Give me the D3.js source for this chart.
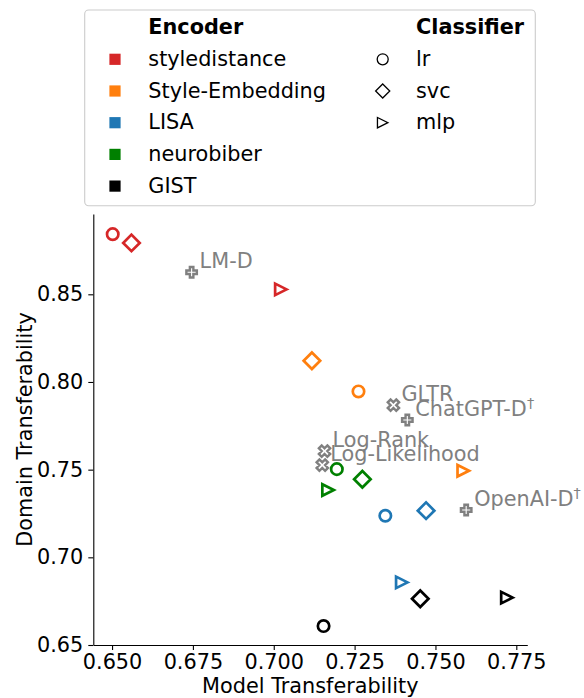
<!DOCTYPE html>
<html>
<head>
<meta charset="utf-8">
<script src="https://cdn.jsdelivr.net/npm/d3@7"></script>
<style>
  body { margin: 0; background: #fff; }
  text { font-family: "DejaVu Sans", sans-serif; }
</style>
</head>
<body>
<div id="chart"></div>
<script>
// encoders and their colours
const encoders = ["styledistance", "Style-Embedding", "LISA", "neurobiber", "GIST"];
const encoderColors = ["#d62728", "#ff7f0e", "#1f77b4", "green", "black"];
const classifiers = ["lr", "svc", "mlp"];

// [lr, svc, mlp] per encoder
const modelTransfer = [
  [0.6502, 0.6560, 0.7022],
  [0.7262, 0.7118, 0.7586],
  [0.7345, 0.7471, 0.7396],
  [0.7195, 0.7274, 0.7168],
  [0.7154, 0.7453, 0.7721]
];
const domainTransfer = [
  [0.8843, 0.8793, 0.8528],
  [0.7946, 0.8121, 0.7494],
  [0.7237, 0.7266, 0.6857],
  [0.7503, 0.7445, 0.7384],
  [0.6608, 0.6764, 0.6770]
];

// baseline detectors
const baseNames = ["LM-D", "GLTR", "ChatGPT-D", "Log-Rank", "Log-Likelihood", "OpenAI-D"];
const baseDagger = [false, false, true, false, false, true];
const baseShape = ["P", "X", "P", "X", "X", "P"];
const baseModel = [0.6746, 0.7370, 0.7413, 0.7157, 0.7150, 0.7595];
const baseDomain = [0.8626, 0.7868, 0.7783, 0.7606, 0.7526, 0.7270];

const xTicks = [0.650, 0.675, 0.700, 0.725, 0.750, 0.775];
const yTicks = [0.65, 0.70, 0.75, 0.80, 0.85];

const width = 584, height = 698;
const fs = 20.8;

const svg = d3.select("#chart").append("svg")
  .attr("width", width)
  .attr("height", height);

const x = d3.scaleLinear().domain([0.6442, 0.7784]).range([93.3, 527.3]);
const y = d3.scaleLinear().domain([0.65, 0.8958]).range([645, 214]);

// marker paths (matplotlib-like geometry)
function circlePath(r) {
  return `M${r},0A${r},${r} 0 1,1 ${-r},0A${r},${r} 0 1,1 ${r},0Z`;
}
function markerPath(kind, m) {
  const h = m / 2;
  if (kind === "D") {
    const d = m / Math.SQRT2;
    return `M0,${-d}L${d},0L0,${d}L${-d},0Z`;
  }
  if (kind === ">") return `M${h},0L${-h},${h}L${-h},${-h}Z`;
  // filled plus "P" or filled x "X"
  const s = m / 6;
  const pts = [[-1,-3],[1,-3],[1,-1],[3,-1],[3,1],[1,1],[1,3],[-1,3],[-1,1],[-3,1],[-3,-1],[-1,-1]];
  const rot = kind === "X" ? Math.PI / 4 : 0;
  return "M" + pts.map(([a, b]) => {
    const px = a * s, py = b * s;
    return [px * Math.cos(rot) - py * Math.sin(rot), px * Math.sin(rot) + py * Math.cos(rot)].map(v => v.toFixed(2)).join(",");
  }).join("L") + "Z";
}
const shapeOf = { lr: "o", svc: "D", mlp: ">" };

// axes
const gx = svg.append("g")
  .attr("transform", `translate(0,645)`)
  .call(d3.axisBottom(x).tickValues(xTicks).tickFormat(d3.format(".3f")).tickSize(5).tickPadding(4).tickSizeOuter(0));
const gy = svg.append("g")
  .attr("transform", `translate(93.3,0)`)
  .call(d3.axisLeft(y).tickValues(yTicks).tickFormat(d3.format(".2f")).tickSize(5).tickPadding(5).tickSizeOuter(0));
[gx, gy].forEach(g => {
  g.selectAll("text").attr("font-size", fs).attr("fill", "black").style("font-family", "DejaVu Sans");
  g.selectAll("line").attr("stroke", "black").attr("stroke-width", 1.1);
  g.select(".domain").attr("stroke", "black").attr("stroke-width", 1.1);
});

svg.append("text")
  .attr("x", 310.3).attr("y", 693)
  .attr("text-anchor", "middle")
  .attr("font-size", fs)
  .text("Model Transferability");
svg.append("text")
  .attr("transform", "translate(31.7,429.5) rotate(-90)")
  .attr("text-anchor", "middle")
  .attr("font-size", fs)
  .text("Domain Transferability");

// baseline markers
const baseG = svg.append("g");
baseNames.forEach((n, i) => {
  baseG.append("path")
    .attr("d", markerPath(baseShape[i], baseShape[i] === "X" ? 12 : 10.5))
    .attr("transform", `translate(${x(baseModel[i])},${y(baseDomain[i])})`)
    .attr("fill", "none")
    .attr("stroke", "gray")
    .attr("stroke-width", 2.4)
    .attr("stroke-linejoin", "miter");
});

// encoder/classifier points
const pts = svg.append("g");
encoders.forEach((e, i) => {
  classifiers.forEach((c, j) => {
    pts.append("path")
      .attr("d", shapeOf[c] === "o" ? circlePath(5.7) : markerPath(shapeOf[c], shapeOf[c] === "D" ? 11.7 : 11.5))
      .attr("transform", `translate(${x(modelTransfer[i][j])},${y(domainTransfer[i][j])})`)
      .attr("fill", "none")
      .attr("stroke", encoderColors[i])
      .attr("stroke-width", 2.7);
  });
});

// baseline labels
baseNames.forEach((n, i) => {
  const t = svg.append("text")
    .attr("x", x(baseModel[i]) + 8)
    .attr("y", y(baseDomain[i]) - 4)
    .attr("font-size", fs)
    .attr("fill", "gray")
    .text(n);
  if (baseDagger[i]) {
    t.append("tspan").attr("dy", -8).attr("font-size", 14.5).text("\u2020");
  }
});

// legend
const lg = svg.append("g");
lg.append("rect")
  .attr("x", 84.7).attr("y", 10)
  .attr("width", 450.6).attr("height", 195.7)
  .attr("rx", 4)
  .attr("fill", "white").attr("fill-opacity", 0.8)
  .attr("stroke", "#cccccc").attr("stroke-width", 1.1);

const rowBase = i => 34.3 + i * 31.7;
lg.append("text").attr("x", 148.3).attr("y", rowBase(0))
  .attr("font-size", fs).attr("font-weight", "bold").text("Encoder");
lg.append("text").attr("x", 416).attr("y", rowBase(0))
  .attr("font-size", fs).attr("font-weight", "bold").text("Classifier");

encoders.forEach((e, i) => {
  const yb = rowBase(i + 1);
  lg.append("rect")
    .attr("x", 115 - 5.6).attr("y", yb - 6.7 - 5.6)
    .attr("width", 11.2).attr("height", 11.2)
    .attr("fill", encoderColors[i]);
  lg.append("text").attr("x", 148.3).attr("y", yb)
    .attr("font-size", fs).text(e);
});
classifiers.forEach((c, j) => {
  const yb = rowBase(j + 1);
  const k = shapeOf[c];
  lg.append("path")
    .attr("d", k === "o" ? circlePath(5.5) : markerPath(k, k === "D" ? 10 : 10.5))
    .attr("transform", `translate(382.7,${yb - 6.7})`)
    .attr("fill", "none")
    .attr("stroke", "black")
    .attr("stroke-width", 1.3);
  lg.append("text").attr("x", 416).attr("y", yb)
    .attr("font-size", fs).text(c);
});
</script>
</body>
</html>
